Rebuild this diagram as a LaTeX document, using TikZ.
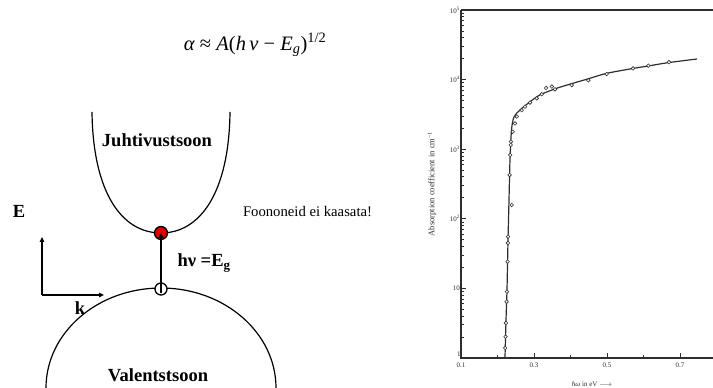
\documentclass[tikz,border=0pt]{standalone}
\usepackage{fontspec}
\setmainfont{Liberation Serif}
\usepackage{tikz}
\usetikzlibrary{arrows.meta,positioning}
\definecolor{elecc}{HTML}{E00000}
\definecolor{plotc}{HTML}{2E2E2E}
\tikzset{
  ax/.style={-{Triangle[length=5pt,width=4.5pt]},line width=1.5pt},
  band/.style={line width=1.2pt},
  zone/.style={font=\fontsize{18.5}{20}\selectfont\bfseries},
  hole/.style={circle,draw,line width=1.3pt,fill=white,minimum size=12pt,inner sep=0pt},
  elec/.style={circle,draw,line width=1.3pt,fill=elecc,minimum size=13pt,inner sep=0pt},
  tk/.style={plotc,line width=0.8pt},
  mk/.style={circle,draw=plotc,fill=white,line width=0.6pt,minimum size=3.6pt,inner sep=0pt},
  lbl/.style={font=\fontsize{7}{8}\selectfont,text=plotc,inner sep=1pt}
}
\begin{document}
\begin{tikzpicture}[x=1pt,y=1pt]
\useasboundingbox (0,0) rectangle (713,388);
\node[font=\fontsize{20.5}{24}\selectfont] (law) at (255,343)
  {\textit{α} ≈ \textit{A}(\textit{h\,ν} − \textit{E}\textsubscript{\textit{g}})\textsuperscript{1/2}};

\draw[band] (92,276) .. controls (93,195) and (122,155) .. (161,155)
  .. controls (200,155) and (229,195) .. (230,276);
\draw[band] (46,0) arc[start angle=180,end angle=0,x radius=115,y radius=100];
\node[zone] (cb) at (157,248) {Juhtivustsoon};
\node[zone] (vb) at (158,13) {Valentstsoon};

\node[hole] (hole) at (161,99) {};
\node[elec] (elec) at (161,155) {};
\draw[line width=1.6pt,-{Triangle[length=5pt,width=5pt]}] ([yshift=-4pt]hole.center) -- (elec.center);
\node[zone,anchor=west] (hv) at (174,125) {hν =E\textsubscript{g}};

\coordinate (org) at (42,93);
\coordinate (etop) at (42,151);
\coordinate (kend) at (104,93);
\draw[ax] (org) -- (etop);
\draw[ax] (org) -- (kend);
\node[zone] (elab) at (19,177) {E};
\node[zone] (klab) at (80,80) {k};

\node[font=\fontsize{14.7}{16}\selectfont] (fon) at (307.5,176) {Foononeid ei kaasata!};

\begin{scope}[shift={(424.5,30)},x=365pt,y=69.6pt,plotc]
\draw[line width=1.2pt] (0.1,5) -- (0.1,0) -- (0.79,0);
\draw[line width=1.2pt] (0.1,5) -- (0.79,5);
\foreach \d in {0,...,4}{
  \foreach \m in {2,...,9}
    \draw[tk] (0.1,{\d+log10(\m)}) -- ++(3pt,0);
}
\foreach \d in {1,...,5}
  \draw[tk] (0.1,\d) -- ++(5pt,0);
\foreach \d in {2,...,5}
  \node[lbl,left] (yl\d) at (0.1,\d) {10\textsuperscript{\d}};
\node[lbl,left] (yl1) at (0.1,1) {10};
\node[lbl,anchor=south east] (yl0) at (0.102,0) {1};
\node[lbl] (xl0) at (0.1,-0.108) {0.1};
\foreach \e in {0.2,0.4,0.6}
  \draw[tk] (\e,0) -- ++(0,3pt);
\foreach \e [count=\i] in {0.3,0.5,0.7}{
  \draw[tk] (\e,0) -- ++(0,5pt);
  \node[lbl] (xl\i) at (\e,-0.108) {\e};
}
\node[lbl] (xlab) at (0.459,-0.374) {\textit{ħω} in eV $\longrightarrow$};
\node[lbl,font=\fontsize{8.5}{9}\selectfont,rotate=90] (ylab) at (0.0205,2.5)
  {Absorption coefficient in cm\textsuperscript{−1}};

\draw[line width=1.2pt] plot[smooth,tension=0.5] coordinates {
  (0.2205,0) (0.2233,0.546) (0.226,0.977) (0.2288,1.695) (0.2315,2.27)
  (0.2342,2.845) (0.2384,3.276) (0.2452,3.463) (0.2616,3.563) (0.289,3.68)
  (0.3164,3.78) (0.362,3.875) (0.4068,3.947) (0.4534,4.019) (0.4992,4.09)
  (0.5712,4.16) (0.6123,4.195) (0.6671,4.243) (0.7466,4.296)};
\foreach \e/\l [count=\i] in {0.2212/0.144,0.2221/0.306,0.2231/0.503,0.2249/0.809,
    0.2258/0.953,0.2276/1.384,0.2286/1.652,0.229/1.743,0.239/2.198,0.2332/2.63,
    0.2349/2.917,0.2363/3.06,0.2368/3.108,0.2416/3.25,0.2479/3.37,0.2526/3.47,
    0.2663/3.56,0.2753/3.61,0.289/3.67,0.3074/3.73,0.3211/3.79,0.333/3.88,
    0.349/3.9,0.3575/3.86,0.4033/3.92,0.4488/3.99,0.4992/4.08,0.5712/4.16,
    0.6132/4.2,0.6699/4.25}
  \node[mk] (p\i) at (\e,\l) {};
\end{scope}
\end{tikzpicture}
\end{document}
